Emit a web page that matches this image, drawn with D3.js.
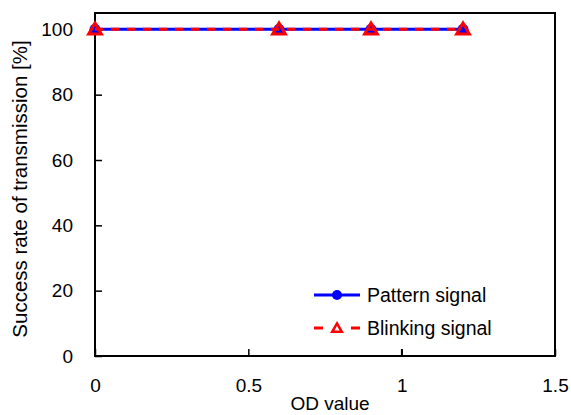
<!DOCTYPE html>
<html>
<head>
<meta charset="utf-8">
<script src="https://cdn.jsdelivr.net/npm/d3@7"></script>
<style>
  body { margin: 0; background: #fff; }
  text { font-family: "Liberation Sans", Arial, sans-serif; fill: #000; }
</style>
</head>
<body>
<div id="chart"></div>
<script>
// data
const odValues = [0, 0.6, 0.9, 1.2];
const patternSignal = [100, 100, 100, 100];
const blinkingSignal = [100, 100, 100, 100];
const xTicks = [0, 0.5, 1, 1.5];
const yTicks = [0, 20, 40, 60, 80, 100];

const width = 571, height = 415;
const margin = { top: 13, right: 16, bottom: 59, left: 95 };

const svg = d3.select("#chart").append("svg")
    .attr("width", width)
    .attr("height", height);

const x = d3.scaleLinear().domain([0, 1.5]).range([margin.left, width - margin.right]);
const y = d3.scaleLinear().domain([0, 105]).range([height - margin.bottom, margin.top]);

// frame
svg.append("rect")
    .attr("x", x(0)).attr("y", y(105))
    .attr("width", x(1.5) - x(0)).attr("height", y(0) - y(105))
    .attr("fill", "none").attr("stroke", "#000").attr("stroke-width", 2);

// y axis, ticks pointing inward
const yAxis = svg.append("g")
    .attr("transform", `translate(${x(0)},0)`)
    .call(d3.axisRight(y).tickValues(yTicks).tickSize(7).tickFormat(d3.format("d")));
yAxis.select(".domain").remove();
yAxis.selectAll(".tick line").attr("stroke", "#000").attr("stroke-width", 1.5);
yAxis.selectAll(".tick text")
    .attr("x", -22).attr("text-anchor", "end")
    .style("font-size", "19px");

// x axis, ticks pointing inward
const xAxis = svg.append("g")
    .attr("transform", `translate(0,${y(0)})`)
    .call(d3.axisTop(x).tickValues(xTicks).tickSize(7).tickFormat(d => d));
xAxis.select(".domain").remove();
xAxis.selectAll(".tick line").attr("stroke", "#000").attr("stroke-width", 1.5);
xAxis.selectAll(".tick text")
    .attr("y", 36).attr("dy", 0)
    .style("font-size", "19px");

// axis titles
svg.append("text")
    .attr("x", 330).attr("y", 410)
    .attr("text-anchor", "middle")
    .style("font-size", "19px")
    .text("OD value");

svg.append("text")
    .attr("transform", `translate(27,189) rotate(-90)`)
    .attr("text-anchor", "middle")
    .style("font-size", "20.5px")
    .text("Success rate of transmission [%]");

// series
const line = d3.line().x(d => x(d[0])).y(d => y(d[1]));
const patternPts = odValues.map((v, i) => [v, patternSignal[i]]);
const blinkPts = odValues.map((v, i) => [v, blinkingSignal[i]]);

svg.append("path").datum(patternPts)
    .attr("d", line).attr("fill", "none")
    .attr("stroke", "#0000ff").attr("stroke-width", 3);

svg.selectAll(".pdot").data(patternPts).enter().append("circle")
    .attr("cx", d => x(d[0])).attr("cy", d => y(d[1]))
    .attr("r", 5.5).attr("fill", "#0000ff");

svg.append("path").datum(blinkPts)
    .attr("d", line).attr("fill", "none")
    .attr("stroke", "#ff0000").attr("stroke-width", 3)
    .attr("stroke-dasharray", "8,8");

const tri = d3.symbol().type(d3.symbolTriangle).size(70);
svg.selectAll(".bmark").data(blinkPts).enter().append("path")
    .attr("d", tri)
    .attr("transform", d => `translate(${x(d[0])},${y(d[1]) + 1})`)
    .attr("fill", "none").attr("stroke", "#ff0000").attr("stroke-width", 3);

// legend
const legend = svg.append("g");
legend.append("rect")
    .attr("x", 305).attr("y", 278).attr("width", 243).attr("height", 70)
    .attr("fill", "#fff");

const lx1 = 314, lx2 = 360;
legend.append("line")
    .attr("x1", lx1).attr("x2", lx2).attr("y1", 295).attr("y2", 295)
    .attr("stroke", "#0000ff").attr("stroke-width", 3);
legend.append("circle")
    .attr("cx", (lx1 + lx2) / 2).attr("cy", 295).attr("r", 5).attr("fill", "#0000ff");
legend.append("text")
    .attr("x", 367).attr("y", 302).style("font-size", "19.5px").text("Pattern signal");

legend.append("line")
    .attr("x1", lx1).attr("x2", lx2).attr("y1", 328).attr("y2", 328)
    .attr("stroke", "#ff0000").attr("stroke-width", 3).attr("stroke-dasharray", "9,28");
legend.append("path")
    .attr("d", d3.symbol().type(d3.symbolTriangle).size(40))
    .attr("transform", `translate(${(lx1 + lx2) / 2},329)`)
    .attr("fill", "#fff").attr("stroke", "#ff0000").attr("stroke-width", 2.5);
legend.append("text")
    .attr("x", 367).attr("y", 335).style("font-size", "19.5px").text("Blinking signal");

// short tick at x=1 below the legend box
svg.append("line")
    .attr("x1", x(1)).attr("x2", x(1)).attr("y1", y(0)).attr("y2", y(0) - 7)
    .attr("stroke", "#000").attr("stroke-width", 1.5);
</script>
</body>
</html>
